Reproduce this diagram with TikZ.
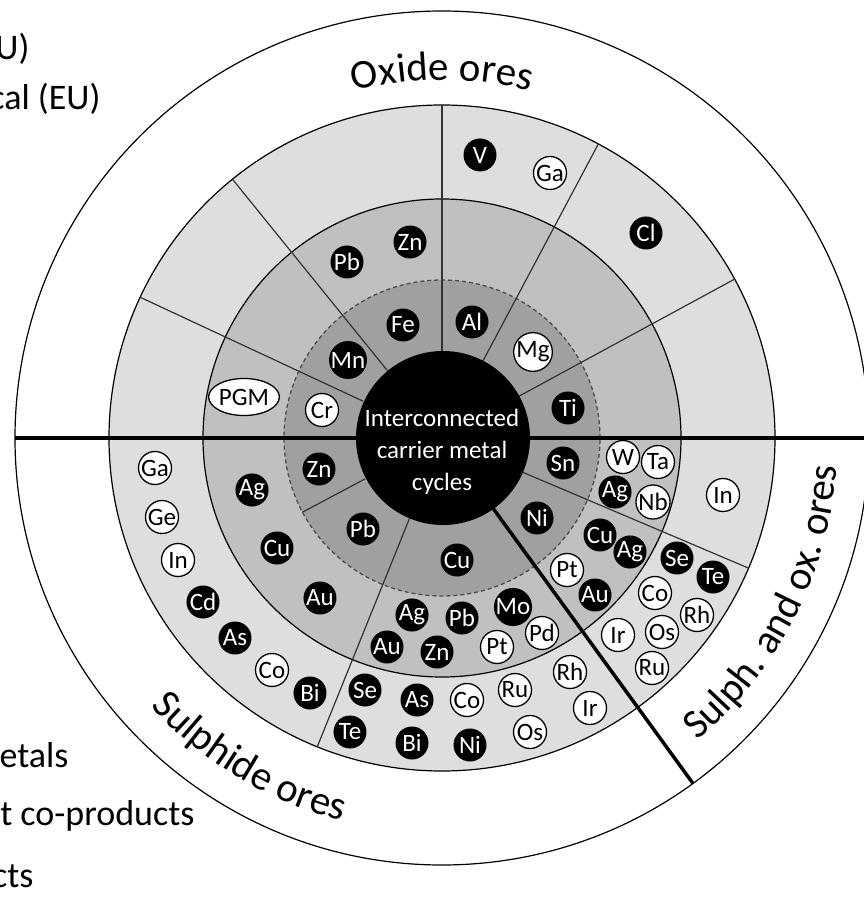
\documentclass[tikz,border=0pt]{standalone}
\usepackage{fontspec}
\setmainfont{Carlito}
\usetikzlibrary{decorations.text,shapes.geometric}

\definecolor{ringdark}{RGB}{160,160,160}
\definecolor{ringmid}{RGB}{192,192,192}
\definecolor{ringlight}{RGB}{222,222,222}
\newcommand\orefont{\fontsize{41}{48}\selectfont}

\begin{document}
\begin{tikzpicture}[x=1pt, y=1pt,
    elem/.style={circle, minimum size=33pt, inner sep=0pt, font=\fontsize{25}{25}\selectfont},
    blk/.style={elem, fill=black, text=white},
    wht/.style={elem, draw=black, line width=1.3pt, fill=white, text=black},
    spoke/.style={line width=1.2pt, black!80},
    border/.style={line width=3.5pt},
    legend/.style={anchor=base east, font=\fontsize{36}{36}\selectfont},
    orelabel/.style={decorate, decoration={text along path, text align=center, text={|\orefont|#1}}}]
  \clip (-442,-469) rectangle (422,438);

  % rings
  \fill[ringlight] (0,0) circle[radius=333pt];
  \fill[ringmid] (0,0) circle[radius=239pt];
  \fill[ringdark] (0,0) circle[radius=158pt];
  \draw[line width=1.2pt] (0,0) circle[radius=427pt] (0,0) circle[radius=333pt] (0,0) circle[radius=239pt];
  \draw[line width=1.3pt, black!70, dash pattern=on 4pt off 3pt] (0,0) circle[radius=158pt];

  % sector borders
  \foreach \a in {28.5,62,90,129,155,-23,248}
    \draw[spoke] (\a:87pt) -- (\a:333pt);
  \draw[spoke] (208:87pt) -- (208:158pt);
  \draw[border] (180:427pt) -- (0:440pt);
  \draw[border] (-54:87pt) -- (-54:427pt);

  % carrier metals core
  \node[circle, fill=black, minimum size=174pt, inner sep=0pt] (core) at (1,0) {};
  \node[text=white, align=center, font=\fontsize{25}{32}\selectfont] (coretext) at (0,-14) {Interconnected\\carrier metal\\cycles};

  % elements
  \foreach \x/\y/\s [count=\i] in {-39/113/Fe, 30/116/Al, 126/30/Ti, 121/-25/Sn, 95/-80/Ni,
      15/-122/Cu, -79/-91/Pb, -123/-31/Zn, -94/78/Mn,
      -95/176/Pb, -32/196/Zn, -190/-52/Ag, -165/-110/Cu, -122/-160/Au, -55/-209/Au,
      -30/-177/Ag, 20/-180/Pb, 71/-169/Mo, -5/-214/Zn, 158/-97/Cu, 188/-114/Ag,
      153/-157/Au, 173/-54/Ag,
      38/283/V, 204/205/Cl, -239/-164/Cd, -207/-200/As, -132/-255/Bi, -77/-252/Se,
      -92/-294/Te, -25/-262/As, -30/-305/Bi, 28/-307/Ni, 235/-120/Se, 271/-139/Te}
    \node[blk] (b\i) at (\x,\y) {\s};
  \foreach \x/\y/\s [count=\i] in {91/86/Mg, -120/28/Cr,
      55/-209/Pt, 100/-195/Pd, 125/-132/Pt, 181/-19/W, 216/-24/Ta, 211/-64/Nb,
      108/265/Ga, -287/-30/Ga, -280/-79/Ge, -264/-122/In, -170/-232/Co, 25/-262/Co,
      73/-252/Ru, 88/-294/Os, 128/-234/Rh, 148/-270/Ir, 213/-155/Co, 255/-177/Rh,
      176/-197/Ir, 220/-194/Os, 210/-230/Ru, 281/-57/In}
    \node[wht] (w\i) at (\x,\y) {\s};
  \node[wht, ellipse, minimum width=60pt, minimum height=37pt] (pgm) at (-198,41) {PGM};

  % ore types
  \path[orelabel=Oxide ores] (112:358pt) arc[start angle=112, end angle=68, radius=358pt];
  \path[orelabel=Sulphide ores] (205:396pt) arc[start angle=205, end angle=273, radius=396pt];
  \path[orelabel=Sulph. and ox. ores] (-62:396pt) arc[start angle=-62, end angle=8, radius=396pt];

  % legend (cut off)
  \node[legend] (lg1) at (-409,378) {U)};
  \node[legend] (lg2) at (-338,328) {cal (EU)};
  \node[legend] (lg3) at (-370,-329) {etals};
  \node[legend] (lg4) at (-244,-387) {t co-products};
  \node[legend] (lg5) at (-405,-449) {cts};
\end{tikzpicture}
\end{document}
